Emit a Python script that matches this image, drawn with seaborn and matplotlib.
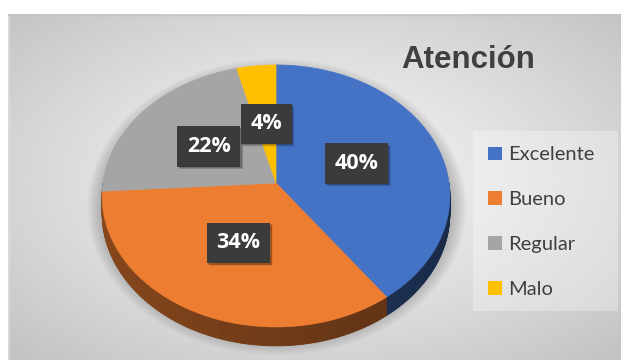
import numpy as np
import matplotlib
matplotlib.use("Agg")
import matplotlib.pyplot as plt
import seaborn as sns
from matplotlib.patches import Polygon, Rectangle, Ellipse, Patch

# ---- data ----
categories = ["Excelente", "Bueno", "Regular", "Malo"]
values = [40, 34, 22, 4]
pct_labels = ["40%", "34%", "22%", "4%"]
title = "Atención"

sns.set_theme(style="white")
palette = sns.color_palette(["#4472C4", "#ED7D31", "#A5A5A5", "#FFC000"])
plt.rcParams["font.family"] = ["Lato", "DejaVu Sans"]

W, H = 621, 360
fig = plt.figure(figsize=(W / 100, H / 100), dpi=100)
fig.patch.set_facecolor("white")
ax = fig.add_axes([0, 0, 1, 1])
ax.set_xlim(0, W)
ax.set_ylim(H, 0)
ax.axis("off")

# ---- background (radial gradient chart area) ----
x0, y0, x1, y1 = 8, 14, W, H
xs = np.linspace(0, 1, 400)
ys = np.linspace(0, 1, 240)
X, Y = np.meshgrid(xs, ys)
R = np.sqrt(((X - 0.5) / 0.5) ** 2 + ((Y - 0.48) / 0.5) ** 2) / np.sqrt(2)
g = np.clip(R, 0, 1) ** 1.2
c = 0.965 - (0.965 - 0.765) * g
img = np.dstack([c, c, c])
ax.imshow(img, extent=(x0, x1, y1, y0), aspect="auto", zorder=0,
          interpolation="bilinear")
ax.plot([x0 + 0.5, x0 + 0.5], [y0, y1], color="#DCDCDC", lw=1.2, zorder=0.5)
ax.plot([x0, x1], [y0 + 0.5, y0 + 0.5], color="#C4C4C4", lw=1.0, zorder=0.5)

# ---- 3D pie geometry ----
cx, cy, a, b, p, depth = 276, 183, 173, 129.7, 0.099, 17


def rim(t, down=0.0):
    x = np.cos(t)
    z = np.sin(t)
    s = 1.0 / (1.0 + p * z)
    return cx + a * x * s, cy - b * z * s + depth * s * down


total = float(sum(values))
starts, ends = [], []
acc = 0.0
for v in values:
    t0 = np.deg2rad(90 - 360 * acc / total)
    t1 = np.deg2rad(90 - 360 * (acc + v) / total)
    starts.append(t0)
    ends.append(t1)
    acc += v

# soft shadow under the pie
for k in range(10):
    e = Ellipse((cx + 1, cy + 24), 2 * (a + 2 + k * 1.6), 2 * (b + 4 + k * 1.6),
                facecolor="black", edgecolor="none", alpha=0.025, zorder=1)
    ax.add_patch(e)

# side walls (front half only)
for i, col in enumerate(palette):
    lo = max(ends[i], -np.pi)
    hi = min(starts[i], 0.0)
    if hi <= lo:
        continue
    ts = np.linspace(hi, lo, max(int((hi - lo) / 0.01), 2))
    for ta, tb in zip(ts[:-1], ts[1:]):
        xa, ya = rim(ta)
        xb, yb = rim(tb)
        xa2, ya2 = rim(ta, 1)
        xb2, yb2 = rim(tb, 1)
        f = 0.47 - 0.1 * np.cos((ta + tb) / 2)
        sc = tuple(np.clip(np.array(col) * f, 0, 1))
        ax.add_patch(Polygon([(xa, ya), (xb, yb), (xb2, yb2), (xa2, ya2)],
                             closed=True, facecolor=sc, edgecolor=sc,
                             lw=0.6, zorder=2))

# top faces
for i, col in enumerate(palette):
    ts = np.linspace(starts[i], ends[i], 200)
    pts = [(cx, cy)] + [rim(t) for t in ts]
    ax.add_patch(Polygon(pts, closed=True, facecolor=col, edgecolor=col,
                         lw=0.5, zorder=3))

# data labels
label_font = ["Open Sans", "DejaVu Sans"]
label_frac = [0.49, 0.51, 0.48, 0.46]
label_texts = []
for i, lab in enumerate(pct_labels):
    tm = (starts[i] + ends[i]) / 2
    x = cx + a * label_frac[i] * np.cos(tm)
    y = cy - b * label_frac[i] * np.sin(tm)
    t = ax.text(x, y, lab, fontsize=15.5, fontweight="bold",
                family=label_font, color="white", ha="center", va="center",
                zorder=5,
                bbox=dict(boxstyle="square,pad=0.45", facecolor="#3B3B3B",
                          edgecolor="none", lw=0))
    label_texts.append(t)

# drop shadows for the label boxes
fig.canvas.draw()
inv = ax.transData.inverted()
for t in label_texts:
    bb = t.get_bbox_patch().get_window_extent()
    (ax0, ay0), (ax1, ay1) = inv.transform([(bb.x0, bb.y0), (bb.x1, bb.y1)])
    left, top = min(ax0, ax1), min(ay0, ay1)
    w, h = abs(ax1 - ax0), abs(ay1 - ay0)
    for k, al in enumerate([0.18, 0.12, 0.07]):
        ax.add_patch(Rectangle((left + 1.5 + k * 0.7, top + 1.5 + k * 0.7),
                               w, h, facecolor="black", alpha=al,
                               edgecolor="none", zorder=4))

# title
ax.text(401, 68, title, fontsize=22.5, fontweight="bold", color="#404040",
        family=["Liberation Sans", "DejaVu Sans"], ha="left", va="baseline",
        zorder=5)

# legend panel + legend
ax.add_patch(Rectangle((473, 131), 145, 180, facecolor="white", alpha=0.3,
                       edgecolor="none", zorder=1))
handles = [Patch(facecolor=col, edgecolor="none", label=cat)
           for col, cat in zip(palette, categories)]
leg = ax.legend(handles=handles, loc="upper left",
                bbox_to_anchor=(488, 146.5), bbox_transform=ax.transData,
                frameon=False, fontsize=14.5, labelspacing=1.38,
                handlelength=0.68, handleheight=0.68, handletextpad=0.33,
                borderpad=0, borderaxespad=0, labelcolor="#404040")
leg.set_zorder(6)

ax.set_xlim(0, W)
ax.set_ylim(H, 0)
ax.axis("off")
fig.savefig("out.png", dpi=100)
